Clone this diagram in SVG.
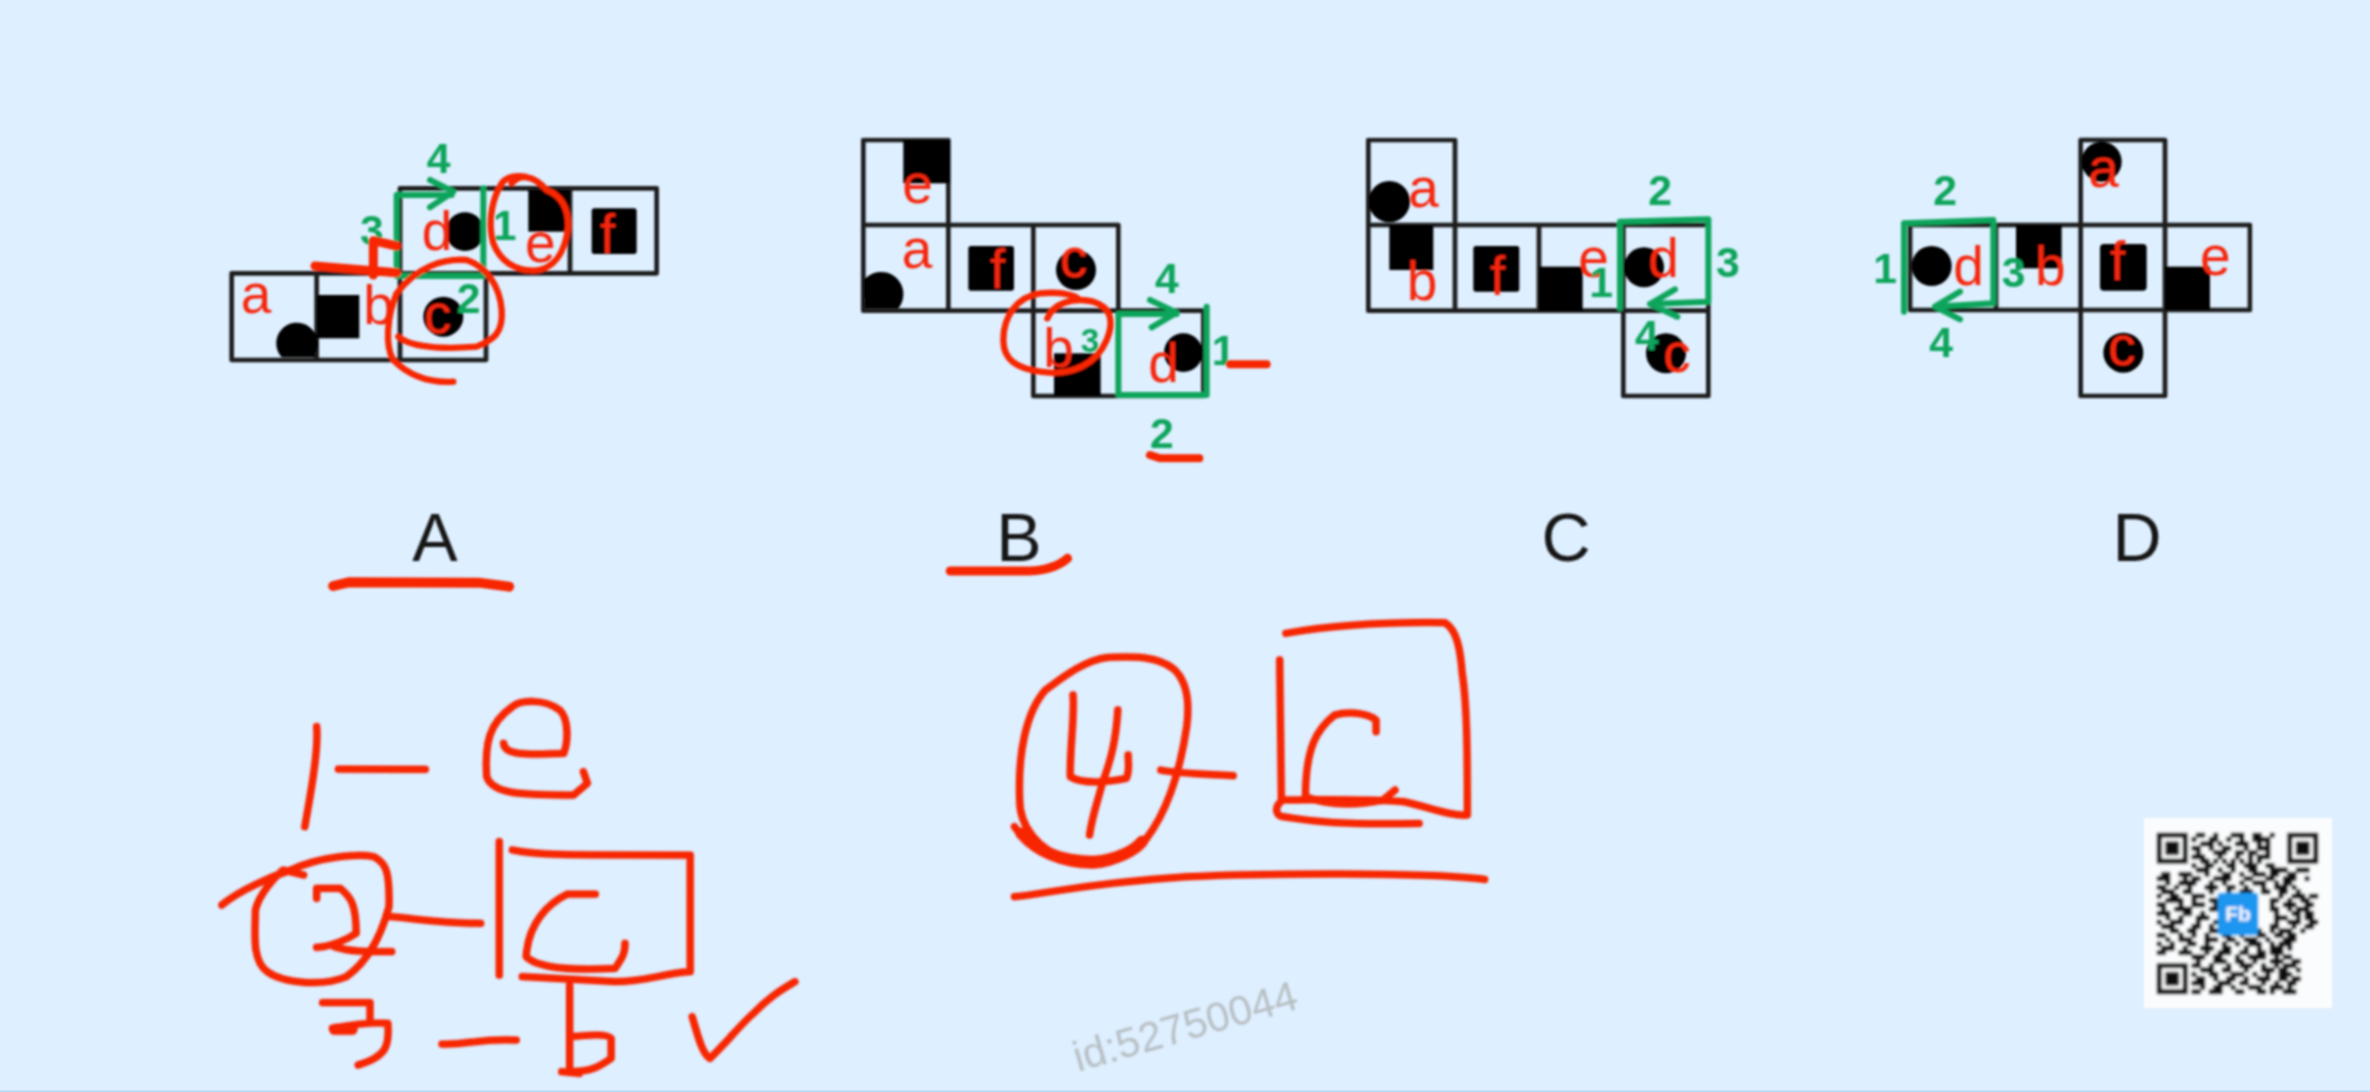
<svg xmlns="http://www.w3.org/2000/svg" width="2370" height="1092" viewBox="0 0 2370 1092">
<defs>
<filter id="soft" x="0" y="0" width="2370" height="1092" filterUnits="userSpaceOnUse"><feGaussianBlur stdDeviation="0.9"/></filter>
<filter id="softer" x="2130" y="810" width="220" height="210" filterUnits="userSpaceOnUse"><feGaussianBlur stdDeviation="0.8"/></filter>
</defs>
<style>
.cell{fill:none;stroke:#1c1c1c;stroke-width:14;stroke-linejoin:round}
.k{fill:#000}
.L{font-family:"Liberation Sans",Arial,sans-serif;font-size:165px;fill:#f5280f}
.n{font-family:"Liberation Sans",Arial,sans-serif;font-weight:bold;font-size:128px;fill:#0ca45c}
.g{fill:none;stroke:#0ca45c;stroke-width:18;stroke-linejoin:round;stroke-linecap:round}
.r{fill:none;stroke:#f72500;stroke-width:19;stroke-linecap:round;stroke-linejoin:round}
.h{fill:none;stroke:#f72500;stroke-width:7.5;stroke-linecap:round;stroke-linejoin:round;vector-effect:non-scaling-stroke}
.cap{font-family:"Liberation Sans",Arial,sans-serif;font-size:68px;fill:#151515;text-anchor:middle}
</style>
<rect width="2370" height="1092" fill="#deefff"/>
<rect y="1090.5" width="2370" height="1.5" fill="#b0dcf8"/>
<g filter="url(#soft)">
<g id="panel-a" transform="translate(200 120) scale(.33333)">
<path class="cell" d="M600 460V205H1370V460H600M850 205V460M1110 205V460M95 460H858V720H95ZM350 460V720M600 460V720"/>
<rect class="k" x="350" y="525" width="128" height="130"/><rect class="k" x="985" y="210" width="125" height="125"/><rect class="k" x="1175" y="265" width="135" height="137" rx="8"/>
<path class="k" d="M245 712A62 62 0 1 1 345 700L345 712Z"/><circle class="k" cx="795" cy="335" r="58"/><circle class="k" cx="730" cy="590" r="60"/>
<text class="L" x="122" y="578">a</text><text class="L" x="490" y="612">b</text><text class="L" x="672" y="640">c</text><text class="L" x="665" y="390">d</text><text class="L" x="975" y="425">e</text><text class="L" x="1200" y="400">f</text>
<text class="n" x="680" y="160">4</text><text class="n" x="480" y="375">3</text><text class="n" x="878" y="360">1</text><text class="n" x="770" y="580">2</text>
<path class="g" d="M590 468V225H755M690 180L760 215L690 262M598 468H850V205"/>
<path class="r" d="M345 438L590 458M520 465V362L590 378" style="stroke-width:27"/>
<path class="r" d="M935 190C960 160 1000 165 1040 210C1080 225 1105 260 1105 320C1095 400 1060 450 1000 452C940 450 900 420 880 370C860 300 880 230 905 190C920 170 950 165 975 170"/>
<path class="r" d="M595 650C640 690 770 685 830 680C880 660 910 640 905 570C900 500 860 440 800 420C730 415 650 440 590 520C560 590 555 680 580 720C620 760 680 790 760 785"/>
</g>
<g id="panel-b" transform="translate(840 120) scale(.33333)">
<path class="cell" d="M70 315V60H325V315M70 315H835V572H70ZM325 315V572M580 315V828H1090V572H580M835 572V828"/>
<rect class="k" x="190" y="60" width="140" height="130"/><rect class="k" x="385" y="378" width="137" height="134" rx="8"/><rect class="k" x="642" y="700" width="140" height="128"/>
<path class="k" d="M72 480A62 62 0 1 1 175 565H75Z"/><circle class="k" cx="708" cy="450" r="60"/><circle class="k" cx="1030" cy="698" r="58"/>
<text class="L" x="187" y="248">e</text>
<text class="L" x="450" y="505">f</text><text class="L" x="660" y="470">c</text><text class="L" x="610" y="740">b</text><text class="L" x="925" y="785">d</text><text class="L" x="185" y="445">a</text>
<text class="n" x="945" y="520">4</text><text class="n" x="722" y="695" style="font-size:100px">3</text><text class="n" x="1115" y="735">1</text><text class="n" x="930" y="985">2</text>
<path class="g" d="M1100 560V825H835V582H1010M930 540L1010 578L935 622"/>
<path class="r" d="M622 595C640 550 700 530 760 545C810 560 825 600 800 660C770 730 700 770 600 755C530 745 490 720 490 660C490 590 530 530 600 520C650 515 700 520 720 540"/>
<path class="r" d="M1170 733H1280M930 1005L960 1015H1078" style="stroke-width:24"/>
</g>
<g id="panel-c" transform="translate(1340 120) scale(.33333)">
<path class="cell" d="M85 315V60H345V315M85 315H1105V572H85ZM345 315V572M597 315V572M850 315V828H1105V572"/>
<rect class="k" x="148" y="315" width="132" height="135"/><rect class="k" x="400" y="378" width="138" height="137" rx="8"/><rect class="k" x="597" y="440" width="131" height="132"/>
<circle class="k" cx="148" cy="245" r="62"/><circle class="k" cx="912" cy="442" r="60"/><circle class="k" cx="978" cy="700" r="60"/>
<text class="L" x="205" y="262">a</text><text class="L" x="200" y="540">b</text><text class="L" x="450" y="525">f</text><text class="L" x="715" y="470">e</text><text class="L" x="925" y="472">d</text><text class="L" x="970" y="755">c</text>
<text class="n" x="925" y="255">2</text><text class="n" x="1128" y="472">3</text><text class="n" x="748" y="530">1</text><text class="n" x="885" y="690">4</text>
<path class="g" d="M840 565V305L1105 298V545L930 552M1005 508L930 552L1012 590"/>
</g>
<g id="panel-d" transform="translate(1860 120) scale(.33333)">
<path class="cell" d="M662 315V60H915V315M150 315H1170V570H150ZM408 315V570M662 315V828H915V315"/>
<rect class="k" x="468" y="315" width="137" height="130"/><rect class="k" x="720" y="372" width="140" height="140" rx="12"/><rect class="k" x="915" y="440" width="135" height="130"/>
<circle class="k" cx="725" cy="125" r="60"/><circle class="k" cx="215" cy="438" r="60"/><circle class="k" cx="790" cy="698" r="60"/>
<text class="L" x="685" y="200">a</text><text class="L" x="280" y="495">d</text><text class="L" x="525" y="495">b</text><text class="L" x="750" y="480">f</text><text class="L" x="1020" y="465">e</text><text class="L" x="745" y="735">c</text>
<text class="n" x="220" y="255">2</text><text class="n" x="40" y="490">1</text><text class="n" x="425" y="500">3</text><text class="n" x="208" y="712">4</text>
<path class="g" d="M132 575V310L400 300V550L225 560M300 515L225 560L300 598"/>
</g>
<g id="captions">
<text class="cap" x="435" y="561">A</text><text class="cap" x="1019" y="561">B</text><text class="cap" x="1566" y="561">C</text><text class="cap" x="2137" y="561">D</text>
</g>
<g id="underlines" transform="translate(300 490) scale(.51 .33333)">
<path class="h" style="stroke-width:10" d="M65 288L95 277L350 278L410 290"/>
<path class="h" style="stroke-width:9" d="M1275 243H1430C1470 240 1490 225 1505 205"/>
</g>
<g id="notes-left" transform="translate(200 700) scale(.3953 .33333)">
<path class="h" d="M295 80C300 150 280 280 265 380M350 207L570 208"/>
<path class="h" d="M768 130C770 165 820 165 920 160C930 130 935 60 910 30C870 -5 810 0 790 20C730 70 720 130 725 230C740 280 800 285 945 285L980 250L970 215"/>
<path class="h" d="M55 615C100 570 180 530 230 510C300 470 400 460 440 470C470 490 480 510 478 620C460 700 430 780 370 830C310 860 210 850 170 815C130 780 140 700 140 630C150 580 190 530 210 510L262 525"/>
<path class="h" d="M295 595V565H355C380 590 395 610 395 700C370 720 330 740 295 742M340 740C380 755 420 755 485 755M480 650C540 655 620 670 710 670M757 425V825"/>
<path class="h" d="M790 450C850 465 900 465 1240 465V815C1170 820 1130 845 1050 845L815 830M1000 582H930C880 610 830 670 825 770C860 810 960 810 1050 805C1070 770 1075 760 1075 730"/>
<path class="h" d="M310 908H430V965M335 985C380 975 430 965 475 970C480 1040 470 1070 400 1095M612 1032C680 1035 700 1015 800 1020"/>
<path class="h" style="stroke-width:11" d="M340 988H385"/>
<path class="h" d="M935 855V1115C990 1115 1010 1100 1040 1075V1015C1030 1000 980 1005 940 1010M915 1115L960 1120"/>
<path class="h" d="M1245 950C1260 1010 1270 1060 1290 1075C1330 1030 1370 970 1400 940C1440 890 1470 870 1505 845"/>
</g>
<g id="notes-middle" transform="translate(980 600) scale(.3444 .33333)">
<path class="h" d="M100 680C150 760 240 795 330 795C400 790 470 740 480 720C540 640 580 520 600 380C610 300 600 240 560 205C510 165 440 170 370 172C300 180 230 240 190 270C130 340 110 470 115 600C115 680 170 750 250 775"/>
<path class="h" style="stroke-width:12" d="M120 700C170 760 240 785 330 785C400 780 450 750 470 725"/>
<path class="h" d="M270 285C275 350 260 450 262 530C300 555 380 545 425 535C435 510 430 490 430 465M400 330C395 420 380 480 355 550C340 610 325 650 318 705M525 510C570 520 650 522 735 527"/>
<path class="h" d="M888 100C1000 80 1150 65 1350 68C1385 90 1395 150 1400 220C1415 320 1415 480 1415 645C1370 650 1300 620 1230 605C1100 595 1000 600 880 600M870 180L875 600M880 600C850 620 860 650 880 650C950 660 1000 675 1275 670"/>
<path class="h" d="M1150 395V360C1120 335 1060 335 1030 345C980 385 945 440 945 590C1020 620 1100 615 1170 600L1205 570"/>
<path class="h" d="M100 890C200 880 300 850 600 830C800 820 1300 815 1465 838"/>
</g>
<g id="qr">
<rect x="2144" y="818" width="188" height="190" fill="#fbfcfd"/>
<g filter="url(#softer)">
<g transform="translate(2157 833) scale(4.35)">
<path fill="#111" fill-rule="evenodd" d="M0 0H7V7H0ZM1 1V6H6V1ZM2 2H5V5H2ZM30 0H37V7H30ZM31 1V6H36V1ZM32 2H35V5H32ZM0 30H7V37H0ZM1 31V36H6V31ZM2 32H5V35H2Z"/>
<path fill="none" stroke="#111" stroke-width="1" d="M9 .5h2m2 0h1m3 0h3m2 0h2m2 0h1M8 1.5h1m3 0h2m2 0h1m2 0h1m2 0h4M10 2.5h3m1 0h1m3 0h3m2 0h1m1 0h1M8 3.5h2m2 0h1m2 0h2m3 0h1m2 0h3M9 4.5h1m3 0h3m2 0h2m1 0h2m2 0h1M8 5.5h3m3 0h1m3 0h1m2 0h1m1 0h3M10 6.5h2m1 0h1m1 0h1m1 0h1m1 0h1m1 0h1m1 0h1M8 7.5h1m2 0h2m3 0h2m2 0h3m2 0h2M9 8.5h3m2 0h1m2 0h1m3 0h2m3 0h4m2 0h3M1 9.5h2m2 0h3m3 0h1m3 0h2m2 0h1m2 0h3m1 0h2m2 0h2M0 10.5h3m3 0h1m1 0h2m3 0h4m3 0h2m3 0h2m2 0h3m2 0h1M2 11.5h1m2 0h4m3 0h1m2 0h1m3 0h1m2 0h3m2 0h1m1 0h2M0 12.5h2m2 0h1m2 0h1m3 0h3m2 0h2m2 0h1m3 0h1m2 0h3m1 0h1M1 13.5h3m2 0h2m4 0h1m3 0h1m2 0h3m2 0h2m2 0h2m2 0h1M0 14.5h1m2 0h2m3 0h3m3 0h2m12 0h1m2 0h3m1 0h2M2 15.5h4m2 0h1m3 0h2m2 0h1m9 0h2m2 0h1m2 0h2M0 16.5h2m3 0h1m2 0h3m2 0h1m2 0h1m9 0h1m2 0h3m2 0h2M1 17.5h1m2 0h4m4 0h2m2 0h1m9 0h2m2 0h1m1 0h3M0 18.5h3m3 0h2m2 0h1m3 0h3m10 0h1m3 0h2m1 0h2M2 19.5h1m2 0h1m3 0h3m2 0h1m2 0h1m9 0h3m2 0h1m1 0h2M0 20.5h1m2 0h3m3 0h1m3 0h3m11 0h1m2 0h3m2 0h2M1 21.5h3m4 0h2m2 0h1m2 0h2m9 0h2m3 0h1m2 0h2M3 22.5h2m2 0h2m3 0h3m3 0h1m2 0h3m2 0h1m1 0h3m2 0h1M0 23.5h2m3 0h1m2 0h1m2 0h1m3 0h2m2 0h1m3 0h2m2 0h2m1 0h2M2 24.5h1m2 0h3m3 0h3m2 0h2m2 0h3m2 0h1m3 0h3M0 25.5h1m2 0h1m3 0h2m2 0h1m3 0h1m2 0h1m2 0h3m2 0h1m1 0h3M1 26.5h3m2 0h1m3 0h3m2 0h2m3 0h1m2 0h1m2 0h3m1 0h1M0 27.5h2m3 0h3m3 0h1m2 0h3m2 0h2m2 0h2m1 0h3M8 28.5h3m2 0h2m3 0h1m2 0h4m2 0h1m1 0h2M9 29.5h1m3 0h3m2 0h2m2 0h1m3 0h3m2 0h2M8 30.5h2m2 0h1m3 0h1m2 0h3m2 0h1m2 0h1m1 0h3M10 31.5h3m2 0h2m3 0h1m3 0h3m1 0h2m2 0h1M8 32.5h1m3 0h2m3 0h3m2 0h1m2 0h1m2 0h3M9 33.5h2m2 0h1m2 0h2m2 0h1m2 0h3m2 0h2m1 0h2M8 34.5h3m3 0h3m2 0h2m3 0h1m2 0h1m2 0h2M10 35.5h1m2 0h2m2 0h1m3 0h3m2 0h3m1 0h1M8 36.5h2m2 0h3m3 0h2m3 0h2m1 0h1m2 0h3"/>
</g>
<rect x="2218" y="893" width="40" height="42" rx="3" fill="#1e96f0"/>
<text x="2238" y="921" text-anchor="middle" font-family="'Liberation Sans',Arial,sans-serif" font-weight="bold" font-size="21" fill="#fff">Fb</text>
</g>
</g>
<text id="watermark" x="0" y="0" transform="translate(1078 1072) rotate(-16)" font-family="'Liberation Sans',Arial,sans-serif" font-size="42" fill="#b8bfc4">id:52750044</text>
</g>
</svg>
